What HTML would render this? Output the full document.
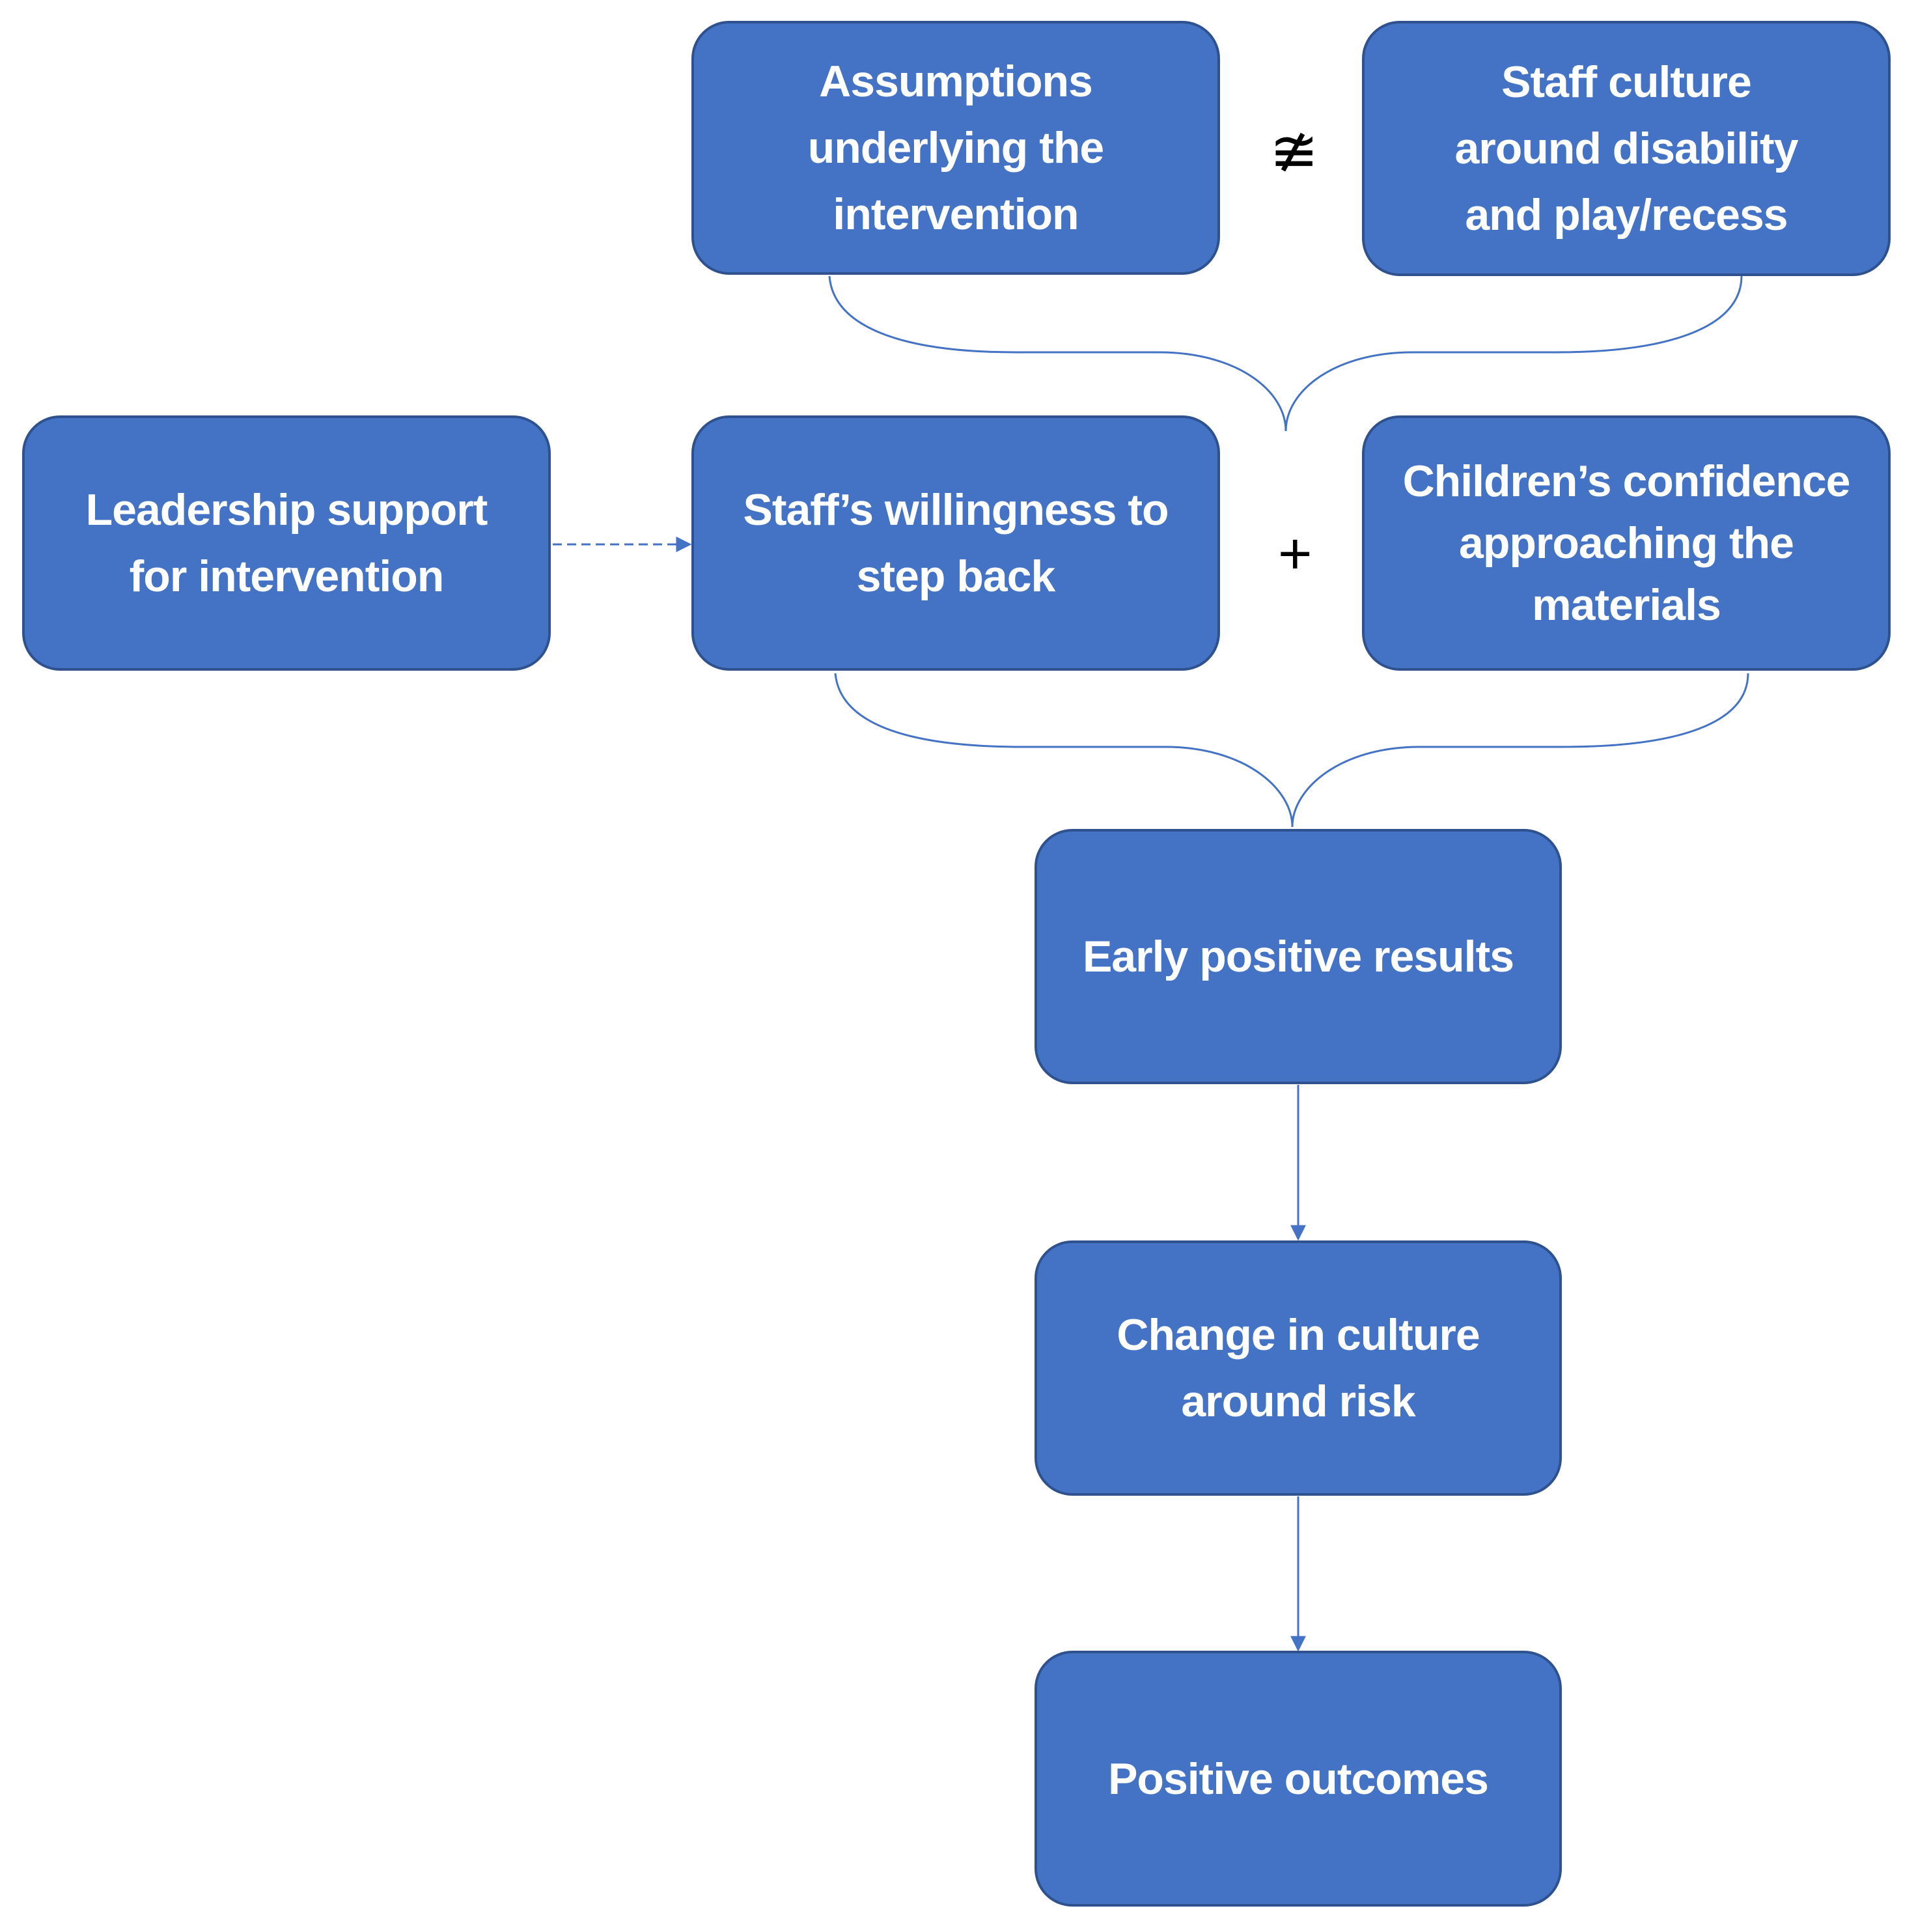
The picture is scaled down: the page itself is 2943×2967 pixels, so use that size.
<!DOCTYPE html>
<html><head><meta charset="utf-8"><style>
html,body{margin:0;padding:0;background:#fff;}
body{width:2943px;height:2967px;position:relative;overflow:hidden;font-family:"Liberation Sans",sans-serif;}
.b{position:absolute;background:#4472c4;border:4px solid #2f528f;border-radius:58px;box-sizing:border-box;display:flex;align-items:center;justify-content:center;text-align:center;color:#fff;font-size:68px;font-weight:bold;line-height:102px;letter-spacing:-1px;}
.s{position:absolute;font-size:90px;color:#000;}
</style></head><body>
<svg width="2943" height="2967" style="position:absolute;left:0;top:0">
<defs><marker id="m" viewBox="0 0 10 10" refX="9" refY="5" markerWidth="24" markerHeight="24" orient="auto" markerUnits="userSpaceOnUse"><path d="M0,0 L10,5 L0,10z" fill="#4472c4"/></marker></defs>
<g fill="none" stroke="#4472c4" stroke-width="3">
<path d="M1274,424 C1280,500 1380,541 1560,541 L1780,541 C1900,541 1975,600 1975,662 C1975,600 2050,541 2170,541 L2390,541 C2570,541 2675,500 2675,424"/>
<path d="M1283,1034 C1290,1110 1390,1147 1570,1147 L1790,1147 C1910,1147 1985,1210 1985,1270 C1985,1210 2060,1147 2180,1147 L2400,1147 C2580,1147 2685,1110 2685,1034"/>
<path d="M849,836 L1060,836" stroke-dasharray="14,8" marker-end="url(#m)"/>
<path d="M1994,1666 L1994,1903" marker-end="url(#m)"/>
<path d="M1994,2298 L1994,2534" marker-end="url(#m)"/>
</g>
</svg>
<div class="b" style="left:1062px;top:32px;width:812px;height:390px">Assumptions<br>underlying the<br>intervention</div>
<div class="b" style="left:2092px;top:32px;width:812px;height:392px">Staff culture<br>around disability<br>and play/recess</div>
<div class="b" style="left:34px;top:638px;width:812px;height:392px">Leadership support<br>for intervention</div>
<div class="b" style="left:1062px;top:638px;width:812px;height:392px">Staff’s willingness to<br>step back</div>
<div class="b" style="left:2092px;top:638px;width:812px;height:392px;line-height:95px">Children’s confidence<br>approaching the<br>materials</div>
<div class="b" style="left:1589px;top:1273px;width:810px;height:392px">Early positive results</div>
<div class="b" style="left:1589px;top:1905px;width:810px;height:392px">Change in culture<br>around risk</div>
<div class="b" style="left:1589px;top:2535px;width:810px;height:393px">Positive outcomes</div>
<div class="s" style="left:1950px;top:180px">≇</div>
<div class="s" style="left:1963px;top:800px">+</div>
</body></html>
